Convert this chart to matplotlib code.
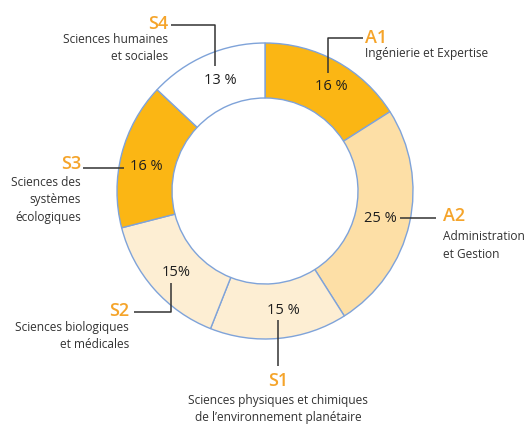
import matplotlib.pyplot as plt

# slices, clockwise from the top
codes = ["A1", "A2", "S1", "S2", "S3", "S4"]
shares = [16, 25, 15, 15, 16, 13]
pct_labels = ["16 %", "25 %", "15 %", "15%", "16 %", "13 %"]
names = [
    "Ingénierie et Expertise",
    "Administration\net Gestion",
    "Sciences physiques et chimiques\nde l\u2019environnement planétaire",
    "Sciences biologiques\net médicales",
    "Sciences des\nsystèmes\nécologiques",
    "Sciences humaines\net sociales",
]
colors = ["#FBB614", "#FDDFA6", "#FDEED3", "#FDEED3", "#FBB614", "#FFFFFF"]

ORANGE = "#F5A42A"
GREY = "#333333"
LINE = "#333333"
EDGE = "#7FA3D9"
H = 424

plt.rcParams["font.family"] = ["Open Sans", "DejaVu Sans"]

fig = plt.figure(figsize=(5.28, 4.24), dpi=100)
ax = fig.add_axes([0, 0, 1, 1])

ax.pie(shares, colors=colors, radius=148, center=(265, H - 191),
       startangle=90, counterclock=False,
       wedgeprops=dict(width=55, edgecolor=EDGE, linewidth=1.0))
ax.set_xlim(0, 528)
ax.set_ylim(0, H)
ax.set_aspect("equal")
ax.axis("off")


def y(py):
    return H - py


def leader(xs, ys):
    ax.plot(xs, [y(v) for v in ys], color=LINE, lw=1.1, solid_capstyle="butt")


# percentage labels inside the ring
pct_pos = [(331, 87), (380, 218), (283, 311), (176, 273), (146, 166), (220, 80)]
for lab, (px, py) in zip(pct_labels, pct_pos):
    ax.text(px, y(py), lab, ha="center", va="center", fontsize=10.5, color="#1E1E1E")

# leader lines
leader([328, 328, 363], [73, 38, 38])          # A1
leader([400, 436], [218, 218])                 # A2
leader([278, 278], [320, 366])                 # S1
leader([171, 171, 134], [283, 312, 312])       # S2
leader([83, 124], [168, 168])                  # S3
leader([171, 215, 215], [25, 25, 66])          # S4

# codes and names
code_pos = [(365, 38, "left"), (443, 216, "left"), (278, 381, "center"),
            (129, 311, "right"), (81, 164, "right"), (168, 24, "right")]
name_pos = [(365, 47, "left"), (443, 230, "left"), (278, 394, "center"),
            (129, 321, "right"), (81, 176, "right"), (168, 33, "right")]
for c, n, (cx, cy, ca), (nx, ny, na) in zip(codes, names, code_pos, name_pos):
    ax.text(cx, y(cy), c, ha=ca, va="center", fontsize=13, color=ORANGE,
            fontweight="semibold")
    ax.text(nx, y(ny), n, ha=na, va="top", fontsize=8.6, color=GREY,
            linespacing=1.45, multialignment=na)

fig.savefig("out.png", dpi=100)
